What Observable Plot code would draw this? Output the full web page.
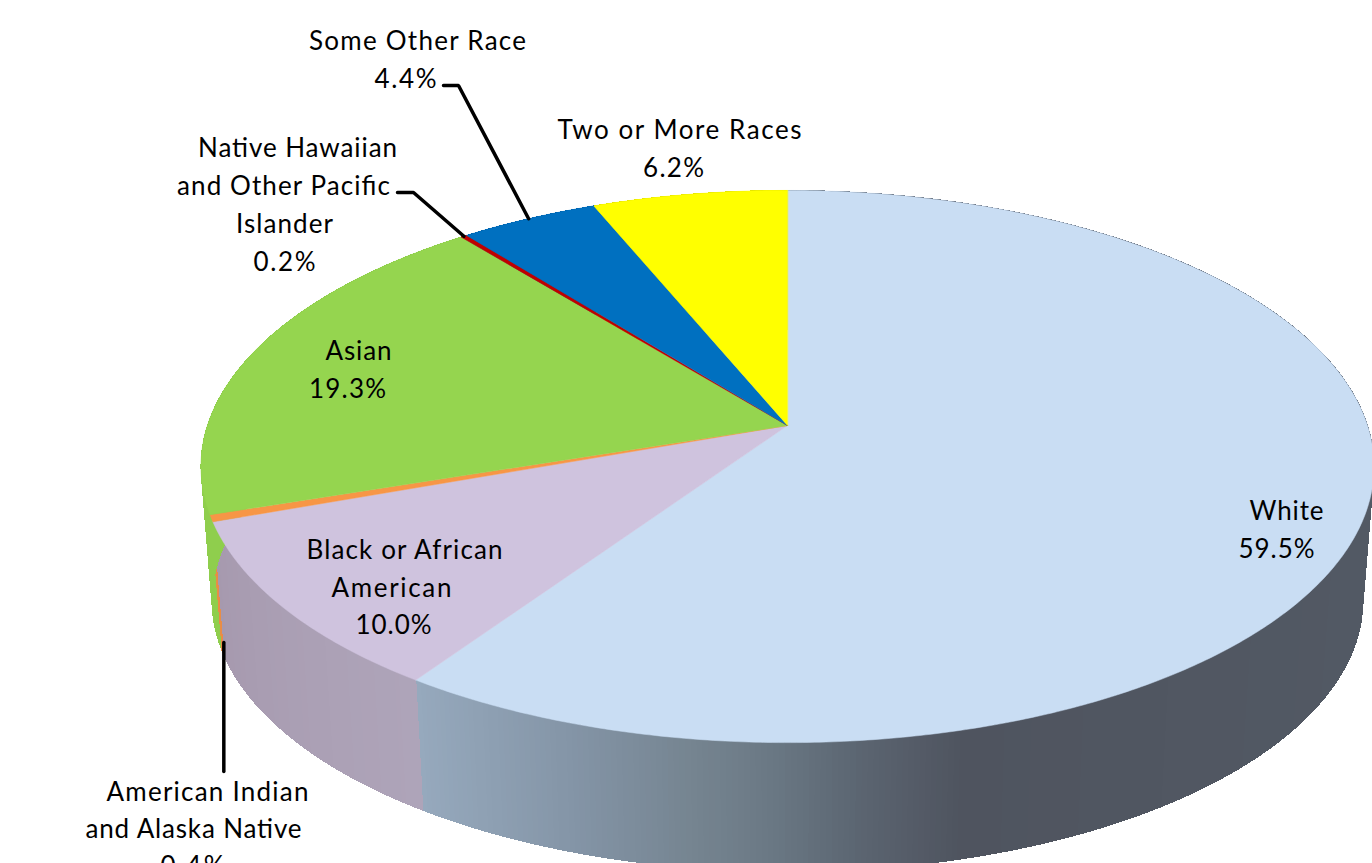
<!DOCTYPE html>
<html>
<head>
<meta charset="utf-8">
<script src="https://cdn.jsdelivr.net/npm/d3@7"></script>
<script src="https://cdn.jsdelivr.net/npm/@observablehq/plot@0.6"></script>
<style>
html,body{margin:0;padding:0;background:#fff;overflow:hidden}
svg{display:block}
</style>
</head>
<body>
<div id="chart"></div>
<script>
// Data
const categories = ["White","Black or African American","American Indian and Alaska Native","Asian","Native Hawaiian and Other Pacific Islander","Some Other Race","Two or More Races"];
const shares = [59.5,10.0,0.4,19.3,0.2,4.4,6.2];
const topColors = ["#c9ddf3","#cfc3de","#f79646","#95d54f","#c00000","#0070c0","#ffff00"];
const labelLines = [
  ["White","59.5%"],
  ["Black or African","American","10.0%"],
  ["American Indian","and Alaska Native","0.4%"],
  ["Asian","19.3%"],
  ["Native Hawaiian","and Other Pacific","Islander","0.2%"],
  ["Some Other Race","4.4%"],
  ["Two or More Races","6.2%"]
];

// Layout (pixels of the picture)
const W = 1372, H = 863;
const labelX = [[1286,1276],[404,391,393],[207,193,192],[358,347],[297,283,284,284],[417,405],[679,673]];
const labelY = [[511,549],[550,588,625],[792,829,866],[351,389],[148,186,224,262],[41,79],[130,168]];
const labelPx = [[74,76],[196,120,76],[202,216,64],[66,77],[199,213,97,62],[217,62],[244,61]];
const leaderStart = {2:[[null,770]],4:[[397,192],[413,192]],5:[[443,85],[458,85]]};
// White's wall shades along the rim, as screen x → colour
const whiteWallX = [415,560,700,760,860,960,1372];
const whiteWallC = ["#96a9bd","#8596a8","#74838f","#6c7a86","#5b6571","#4f545f","#525964"];
const wallColors = [null,["#aea4b9","#a699ae"],["#e88d46","#e88d46"],["#8fce4d","#8fce4d"],["#b00000","#b00000"],["#0060a8","#0060a8"],["#dddd00","#dddd00"]];

// Tilted-disc projection
const cx=787, cy=425, a=270, b=580, k=0.1486, depth=135, shrink=0.981;
const proj=(t,bottom=false)=>{
  const u=Math.sin(t), v=Math.cos(t), d=1+k*v, s=bottom?shrink:1;
  return [cx+s*b*u/d, cy+(bottom?depth:0)-s*a*v/d];
};
const total=d3.sum(shares);
const cum=d3.cumsum(shares);
const angle=p=>p/total*2*Math.PI;
const slices=shares.map((v,i)=>({i,t0:angle(i?cum[i-1]:0),t1:angle(cum[i])}));

const whiteWall=d3.scaleLinear().domain(whiteWallX).range(whiteWallC).interpolate(d3.interpolateRgb).clamp(true);

const step=Math.PI/360;
const wallPts=[];
slices.forEach(s=>{
  const n=Math.max(1,Math.ceil((s.t1-s.t0)/step));
  for(let j=0;j<n;j++){
    const p=s.t0+(s.t1-s.t0)*j/n, q=s.t0+(s.t1-s.t0)*(j+1)/n;
    const A=proj(p),B=proj(q),C=proj(q,true),D=proj(p,true);
    const c=s.i===0?whiteWall((A[0]+B[0])/2):d3.interpolateRgb(...wallColors[s.i])(j/n);
    [A,B,C,D].forEach(P=>wallPts.push({x:P[0],y:P[1],key:s.i+"-"+j,c}));
  }
});
const topPts=[];
slices.forEach(s=>{
  const n=Math.max(2,Math.ceil((s.t1-s.t0)/step));
  topPts.push({x:cx,y:cy,key:s.i,c:topColors[s.i]});
  for(let j=0;j<=n;j++){
    const P=proj(s.t0+(s.t1-s.t0)*j/n);
    topPts.push({x:P[0],y:P[1],key:s.i,c:topColors[s.i]});
  }
});

const labels=labelLines.flatMap((ls,i)=>ls.map((text,j)=>({text,x:labelX[i][j],y:labelY[i][j],w:labelPx[i][j]})));

const leaders=[];
Object.entries(leaderStart).forEach(([idx,pts])=>{
  const s=slices[+idx], mid=(s.t0+s.t1)/2;
  if(+idx===2){
    const E=proj(mid,true);
    leaders.push({x:E[0]+1.5,y:771,key:idx},{x:E[0]+1.5,y:642,key:idx});
  } else {
    const E=proj(mid);
    pts.forEach(p=>leaders.push({x:p[0],y:p[1],key:idx}));
    leaders.push({x:E[0],y:E[1],key:idx});
  }
});

const plot=Plot.plot({
  width:W,height:H,margin:0,
  x:{domain:[0,W],range:[0,W],axis:null},
  y:{domain:[0,H],range:[0,H],axis:null},
  color:{type:"identity"},
  style:{background:"#fff",overflow:"hidden"},
  marks:[
    Plot.line(wallPts,{x:"x",y:"y",z:"key",fill:"c",stroke:"c",strokeWidth:1,curve:"linear-closed",shapeRendering:"crispEdges"}),
    Plot.line(topPts,{x:"x",y:"y",z:"key",fill:"c",stroke:"c",strokeWidth:0.5,curve:"linear-closed"}),
    Plot.line(leaders,{x:"x",y:"y",z:"key",stroke:"#000",strokeWidth:3.5,curve:"linear",strokeLinejoin:"miter"}),
    Plot.text(labels,{x:"x",y:"y",text:"text",fill:"#000",fontFamily:"Lato",fontSize:26,textAnchor:"middle",lineAnchor:"middle"})
  ]
});
document.getElementById("chart").append(plot);
// Stretch each line to the width it has in the picture
d3.select(plot).selectAll("text").filter(function(){return this.textContent&&this.parentNode.tagName==="g"}).each(function(){
  const t=labels.find(l=>l.text===this.textContent);
  if(t){this.setAttribute("textLength",t.w);this.setAttribute("lengthAdjust","spacing");}
});
</script>
</body>
</html>
